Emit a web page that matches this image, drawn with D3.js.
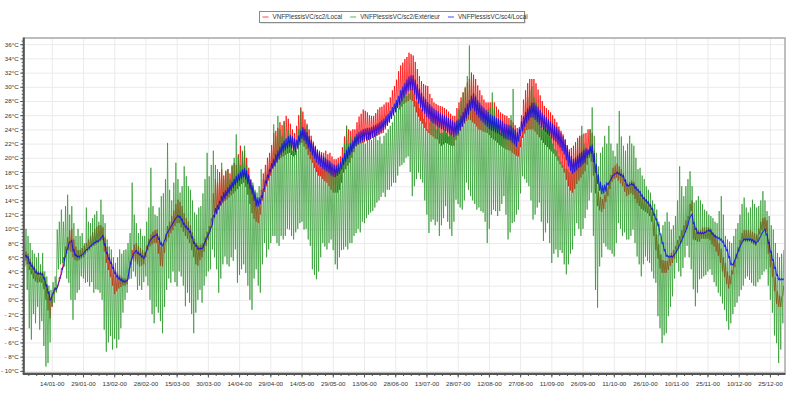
<!DOCTYPE html>
<html>
<head>
<meta charset="utf-8">
<script src="https://cdn.jsdelivr.net/npm/d3@7"></script>
<style>
  body { margin: 0; background: #fff; }
  text { font-family: "Liberation Sans", Arial, sans-serif; fill: #333; }
</style>
</head>
<body>
<svg id="chart" width="791" height="397"></svg>
<script>
// daily readings, day 0 = 01/01, one value per day (min at night, max in the afternoon)
var seriesNames = ['VNFPlessisVC/sc2/Local', 'VNFPlessisVC/sc2/Extérieur', 'VNFPlessisVC/sc4/Local'];

var redMax = [
  6.8, 6.5, 5.8, 5.3, 4.8, 4.3, 4.0, 4.0, 4.0, 3.2, 2.2, 1.2, 0.3, 1.0, 1.8,
  2.0, 3.2, 4.5, 6.0, 7.5, 8.8, 9.8, 10.0, 8.5, 7.5, 7.0, 7.0, 7.3, 7.6, 8.0,
  8.5, 9.0, 9.5, 10.0, 10.3, 10.5, 10.5, 10.2, 8.8, 7.5, 6.5, 5.8, 5.0, 4.2, 3.8,
  3.5, 3.2, 3.0, 3.0, 3.4, 5.4, 7.0, 7.8, 8.0, 7.6, 7.3, 7.0, 6.7, 7.6, 8.6,
  9.2, 9.6, 9.8, 9.9, 9.0, 8.2, 8.0, 9.2, 10.4, 11.0, 11.8, 12.6, 13.5, 14.1, 13.8,
  13.2, 12.2, 11.5, 11.0, 10.5, 9.5, 8.6, 8.0, 7.6, 7.8, 8.0, 8.8, 9.6, 10.4, 11.5,
  15.0, 17.0, 16.5, 18.0, 18.4, 17.5, 18.2, 18.4, 17.8, 18.8, 19.3, 19.0, 20.5, 21.7, 20.8,
  21.0, 20.0, 18.6, 17.0, 15.8, 14.8, 14.0, 13.7, 15.5, 17.8, 19.0, 20.0, 20.7, 21.8, 23.5,
  23.8, 24.2, 25.0, 24.6, 25.2, 25.9, 25.5, 24.8, 24.0, 23.5, 24.5, 26.0, 27.1, 26.5, 25.4,
  24.8, 24.0, 23.1, 22.3, 21.7, 21.2, 21.0, 20.8, 20.7, 21.0, 20.5, 20.7, 20.2, 19.8, 19.8,
  20.0, 20.2, 21.5, 23.0, 24.5, 24.0, 23.8, 24.0, 24.0, 25.0, 25.8, 26.2, 26.8, 26.6, 26.4,
  26.0, 25.9, 25.9, 26.3, 26.8, 27.1, 27.2, 27.5, 27.8, 27.8, 28.5, 29.5, 30.1, 31.0, 32.2,
  33.0, 33.4, 33.9, 34.2, 34.8, 34.6, 34.4, 33.5, 32.5, 31.5, 30.8, 30.4, 30.2, 30.1, 29.0,
  28.4, 27.8, 27.6, 27.4, 27.3, 27.2, 27.0, 26.8, 26.5, 26.2, 25.9, 25.9, 27.0, 27.8, 28.5,
  29.2, 29.8, 30.6, 31.1, 32.0, 31.7, 31.1, 30.2, 29.5, 28.8, 28.2, 27.8, 27.8, 27.8, 27.8,
  27.8, 27.2, 26.8, 26.4, 26.2, 26.0, 25.9, 25.6, 25.3, 25.0, 24.6, 24.2, 24.0, 26.0, 28.2,
  29.5, 30.5, 31.1, 31.1, 31.1, 30.5, 29.6, 28.8, 28.0, 27.3, 27.0, 26.7, 26.4, 26.0, 25.5,
  25.0, 24.4, 23.8, 23.3, 22.6, 21.8, 21.2, 21.4, 21.7, 22.2, 22.8, 23.1, 23.2, 23.4, 23.5,
  24.0, 24.0, 23.5, 21.0, 18.0, 15.2, 14.5, 14.2, 14.8, 15.8, 16.6, 17.6, 18.6, 18.9, 19.2,
  18.8, 18.4, 17.8, 17.0, 16.4, 16.6, 16.8, 16.6, 16.0, 15.4, 15.0, 14.6, 14.4, 14.2, 13.9,
  13.5, 12.8, 11.0, 9.2, 7.8, 6.4, 5.6, 5.5, 5.5, 6.0, 6.6, 7.0, 7.6, 8.4, 9.0,
  9.8, 10.5, 11.2, 11.8, 13.5, 14.0, 10.5, 10.0, 9.8, 9.8, 10.2, 10.2, 10.2, 10.2, 10.0,
  9.5, 9.2, 8.6, 8.0, 7.2, 6.0, 5.2, 4.0, 3.4, 4.2, 5.4, 6.4, 7.4, 8.4, 9.4,
  9.8, 9.8, 9.8, 9.8, 9.6, 9.4, 9.2, 10.0, 11.0, 11.5, 11.6, 11.2, 8.5, 6.8, 5.2, 3.2, 1.2, 0.6, 0.4, 2.0
];
var redMin = [
  5.5, 5.0, 4.2, 3.6, 3.0, 2.6, 2.4, 2.5, 2.4, 1.5, 0.0, -1.5, -2.6, -1.0, 0.8,
  1.2, 2.0, 3.0, 4.2, 5.5, 6.5, 7.0, 6.8, 6.0, 5.6, 5.5, 5.6, 5.8, 6.0, 6.4,
  6.8, 7.0, 7.4, 7.6, 7.8, 8.0, 8.2, 8.4, 6.8, 5.2, 4.2, 3.2, 2.0, 0.8, 1.2,
  1.6, 1.8, 2.0, 2.0, 2.2, 3.8, 5.0, 5.5, 5.4, 5.0, 4.7, 4.8, 5.0, 6.0, 7.0,
  7.5, 7.8, 8.0, 8.0, 6.5, 4.8, 4.7, 6.6, 8.2, 8.8, 9.4, 9.8, 10.4, 10.8, 10.8,
  10.2, 9.6, 9.0, 8.6, 8.0, 7.0, 6.0, 5.0, 4.8, 5.6, 6.0, 6.8, 7.6, 8.4, 9.6,
  10.5, 11.5, 12.2, 12.8, 13.2, 13.6, 13.9, 14.1, 14.4, 14.7, 15.0, 15.3, 15.6, 16.0, 16.3,
  16.5, 15.9, 14.8, 13.5, 12.2, 11.4, 11.0, 10.8, 12.0, 14.0, 15.2, 16.0, 16.8, 17.5, 18.4,
  18.8, 19.3, 19.7, 20.0, 20.2, 20.4, 20.6, 20.7, 20.4, 20.2, 20.4, 21.2, 21.8, 22.1, 21.6,
  21.2, 20.4, 19.8, 19.3, 18.6, 18.0, 17.5, 17.4, 17.0, 16.7, 16.5, 16.0, 15.5, 15.1, 15.1,
  15.1, 15.5, 16.5, 17.9, 18.4, 18.9, 19.3, 20.0, 20.8, 21.6, 21.8, 22.0, 22.1, 22.2, 22.4,
  22.5, 22.6, 22.8, 22.9, 23.1, 23.2, 23.4, 23.5, 24.0, 24.5, 25.0, 25.5, 26.0, 26.4, 27.0,
  26.8, 27.2, 27.6, 27.8, 28.0, 28.2, 28.0, 27.2, 26.4, 25.8, 25.2, 24.8, 24.2, 23.8, 23.5,
  23.2, 23.0, 22.7, 22.6, 22.0, 21.7, 21.9, 22.1, 22.0, 21.8, 21.7, 21.7, 22.5, 23.1, 23.8,
  24.4, 24.8, 25.2, 25.4, 25.3, 25.0, 24.8, 24.4, 24.0, 23.9, 23.7, 23.6, 23.5, 23.2, 22.8,
  22.6, 22.4, 22.1, 21.8, 21.6, 21.4, 21.2, 21.1, 21.0, 20.7, 20.5, 20.3, 20.2, 21.5, 22.8,
  23.4, 23.9, 24.0, 24.0, 24.0, 23.7, 23.3, 22.9, 22.5, 22.1, 21.8, 21.5, 21.2, 20.9, 20.6,
  20.2, 19.6, 19.1, 18.6, 17.9, 16.9, 16.0, 15.4, 15.1, 15.6, 16.3, 16.8, 17.2, 17.7, 18.1,
  19.0, 20.0, 19.5, 17.5, 15.0, 13.2, 12.6, 12.4, 12.8, 13.8, 14.6, 15.6, 16.6, 17.0, 17.2,
  16.8, 16.4, 16.0, 15.2, 14.6, 14.8, 15.0, 14.8, 14.2, 13.6, 13.2, 12.8, 12.6, 12.4, 12.2,
  11.8, 11.0, 9.0, 7.0, 5.8, 4.4, 3.8, 3.8, 3.8, 4.2, 4.8, 5.2, 5.8, 6.6, 7.2,
  8.0, 8.7, 9.5, 10.0, 11.5, 12.5, 8.5, 8.4, 8.2, 8.2, 8.6, 8.6, 8.6, 8.6, 8.4,
  7.8, 7.5, 6.8, 6.2, 5.2, 4.0, 3.2, 2.2, 1.6, 2.2, 3.6, 4.6, 5.8, 6.8, 7.8,
  8.2, 8.2, 8.2, 8.2, 8.0, 7.8, 7.6, 8.2, 9.2, 9.8, 10.0, 9.6, 6.5, 4.6, 3.2, 1.2, -0.6, -1.0, -1.0, 0.6
];

var greenMax = [
  10, 9, 8, 7, 6.5, 6, 6.6, 5, 6.6, 4, 3.3, 2, 1.4, 2.5, 3.3,
  9.9, 11, 12.7, 11, 13.2, 14.8, 12, 13.2, 10.8, 9, 10, 9, 9.4, 8, 13,
  11, 10.8, 11.5, 12, 12.5, 11, 14.1, 12, 10.8, 8.5, 7.5, 7.1, 6, 5.2, 6,
  7.1, 6.5, 7, 7.1, 8, 9.4, 16.5, 12, 10.8, 9.4, 10, 9, 9, 11, 13,
  18.6, 13.2, 12, 11.8, 13, 14.6, 15, 17, 22.1, 15.5, 14, 16.5, 19.3, 17, 15.1,
  16, 18.8, 17.4, 16, 15.5, 14, 12.3, 12, 13, 13.2, 15, 17, 20.7, 17.4, 19,
  21, 19, 18.4, 17, 19.3, 17, 18, 18.4, 17, 19, 20, 23.3, 20.2, 19, 21,
  21.7, 19, 17.4, 16, 16.5, 15.5, 15.1, 16, 18.4, 17, 18, 19, 20.2, 21, 24.7,
  23, 25.9, 24, 23, 25, 22, 24, 23, 21, 22.1, 21, 24, 26.8, 24, 23,
  24.5, 23, 22.1, 21, 20.7, 19.5, 20, 19, 20.2, 19, 18.5, 19.3, 18, 17.5, 18.4,
  19.3, 18.5, 20, 22, 24.5, 22, 23.1, 22, 23, 23.1, 22.5, 23, 23.5, 22, 23,
  23.5, 22.5, 23, 23.5, 22.5, 23, 22, 23.1, 23.5, 24, 24.5, 25, 26, 27.8, 27,
  28, 28.5, 29, 28.7, 29, 29.7, 29, 28, 27.8, 27, 26.8, 25.5, 25, 24, 25,
  25.4, 24.5, 24, 24.5, 23.5, 23.5, 24, 23.5, 23, 23.5, 23, 23.1, 25, 26.8, 28,
  29.2, 30, 31.5, 35.8, 31, 30.1, 29, 27.8, 27, 26.5, 25.9, 26, 26.8, 27, 29.2,
  27, 25.4, 24.5, 23.5, 24, 23.5, 23.1, 24, 26, 29.7, 24, 22.6, 23, 23.1, 25,
  27.8, 28.5, 29.5, 30.1, 28.5, 27.8, 26, 24.5, 24, 24.5, 24, 24, 23, 22, 21.2,
  21, 20.2, 19.5, 19, 18.5, 18.4, 18, 19, 19.3, 21, 22.5, 23, 24.5, 22, 20.2,
  21, 24, 27.1, 23.1, 20.7, 18.8, 20.7, 21.5, 23.1, 22, 24.5, 22, 21, 20.2, 22,
  26.6, 23, 21.7, 21, 22, 23.1, 22, 21.7, 20, 18.4, 18.6, 17.5, 17, 16, 15.5,
  15.1, 14, 13.5, 12.7, 11, 9, 10.5, 11, 12.3, 11, 9.9, 10.5, 11.8, 14, 18.8,
  16, 14.6, 16, 17, 18.1, 16, 13.7, 14, 14.6, 14, 13.5, 12.7, 12.5, 12, 11.8,
  11.5, 11, 10.8, 12.5, 14.6, 12, 9, 8.5, 8.2, 8, 9, 10, 10.8, 12, 13.5,
  14.4, 13, 12.3, 13, 14.1, 13.5, 13, 13.2, 14, 15.3, 14, 12.5, 11.8, 10.5, 9.9, 8, 6.6, 6, 6.5, 7
];
var greenMin = [
  4.7, 1.4, -4, -5.6, -2, -3.3, -1, -4.2, -3, -6.5, -9.4, -8.9, -6, -0.9, -0.4,
  1, 4.3, 5, 5.2, 4.7, 3, 2.4, 0, -2.8, 0, 1, 1.4, 3.3, 3, 2.4,
  2.5, 1.9, 2.5, 1, 1.5, 1.4, 1, 0, -4.2, -7.3, -6, -5.1, -7, -5.5, -6.8,
  -5.6, -4, -1.8, 0, 1, 2.9, 3, 4, 3.3, 1.4, 2, 1.4, 2.5, 3.3, 2,
  0, -2, -3.3, -1, -1.8, -3, -4.7, -1, 1.4, 3, 2.4, 4, 2.5, 1.9, 4,
  3.3, 2, -0.9, 1, -0.4, -2, -4.7, -1.8, 0, 1.4, -0.4, 2, 3.3, 4, 4.3,
  7.1, 6, 4.3, 1, 3, 5, 6.1, 5, 4.7, 6, 5.5, 7.1, 2.4, 3.5, 4.3,
  5, 3.8, 2, 0, -1.4, 3, 4.3, 2, 1, 5, 8, 6, 7.1, 8, 9,
  9, 8, 7.6, 9, 8.5, 9, 10, 9.9, 9, 8.5, 9.5, 10, 10.8, 11, 9.9,
  10, 8.5, 7.6, 4.3, 3.5, 2.9, 4, 6, 8, 7.5, 7.1, 8, 8.5, 7, 5,
  4.3, 6, 7, 7.1, 7.5, 7.1, 8, 8, 9, 9.4, 10, 9.5, 11, 10.8, 11.5,
  12, 12.3, 12.5, 13, 13.7, 14, 14.5, 15.1, 14.5, 15.5, 15.5, 16, 16.5, 16.5, 17.5,
  18.8, 19, 19.3, 20, 20.2, 18, 14.6, 16, 17, 17.9, 17, 16.5, 14, 12, 9.4,
  11, 11.3, 10.5, 11, 9, 10.5, 11.5, 13.2, 11, 10, 9, 11, 14.1, 13.5, 13,
  12.7, 14, 16.5, 15.5, 14.6, 14, 13.5, 12.7, 13, 12.5, 12.3, 11, 8, 10, 12,
  12.7, 12.5, 11.8, 12.5, 13.5, 14.6, 12, 8.5, 9.5, 10.8, 11, 12, 12.7, 15, 17.4,
  17, 16.5, 16, 14, 11.3, 12, 13, 13.7, 11, 8.3, 9.5, 10.8, 8, 5.2, 6.5,
  7.1, 6, 7, 6.6, 5, 3.6, 5, 6.5, 7.1, 9, 10.8, 10, 9, 10, 11.5,
  12.7, 14, 15.1, 9, 1.4, -1.1, 4.7, 6, 8, 7.5, 7.1, 7, 6.5, 6.1, 8,
  10.8, 10, 9, 9.5, 8.5, 8.5, 9, 9.9, 8, 6.1, 5, 3.3, 5, 6.1, 5.5,
  5.2, 4, 3, 2.4, -2.3, -4, -6.1, -5, -4.7, -2.3, -1, 0.5, 3, 5.2, 4,
  3.3, 4.5, 6, 7.6, 6, 4.3, 1.5, -0.9, 1, 2.9, 3, 3.3, 3.5, 4, 4.3,
  3.5, 2.5, 1.9, 1, 0.5, -0.5, -1.4, -3, -4.2, -3.3, -2, -1, -0.4, 0.5, 1.4,
  2, 3, 3.3, 2.8, 2.4, 2, 1.9, 2.5, 2.9, 3.5, 4, 4.3, 2, 0, -1.8, -5, -6.1, -8.9, -7, -3.3
];

var blueMax = [
  6.3, 6.1, 5.3, 4.9, 4.5, 4.0, 3.8, 3.8, 3.7, 3.1, 2.1, 1.1, 0.1, 0.9, 1.6,
  1.7, 2.6, 3.6, 4.7, 6.1, 7.2, 8.1, 8.4, 7.1, 6.4, 6.2, 6.2, 6.4, 6.7, 7.1,
  7.3, 7.6, 7.9, 8.1, 8.3, 8.4, 8.7, 9.1, 7.9, 6.7, 5.9, 5.3, 4.6, 3.9, 3.4,
  3.1, 2.9, 2.7, 2.7, 2.9, 4.6, 5.9, 6.6, 7.0, 6.7, 6.5, 6.2, 6.0, 6.9, 7.9,
  8.5, 8.9, 9.1, 9.3, 8.7, 8.0, 7.8, 8.6, 9.5, 10.0, 10.5, 11.0, 11.5, 11.9, 11.8,
  11.4, 10.8, 10.4, 10.1, 9.7, 8.9, 8.1, 7.7, 7.3, 7.3, 7.4, 8.1, 8.8, 9.4, 10.2,
  11.9, 12.9, 13.3, 13.9, 14.6, 15.1, 15.4, 15.8, 16.2, 16.6, 17.0, 17.4, 17.7, 18.0, 18.3,
  18.5, 18.2, 17.6, 16.8, 16.1, 15.2, 14.4, 14.4, 14.7, 15.6, 16.8, 17.6, 18.4, 19.2, 19.8,
  20.5, 21.0, 21.5, 22.0, 22.4, 22.7, 23.0, 23.2, 23.0, 22.7, 22.5, 23.1, 23.8, 24.3, 24.0,
  23.6, 23.0, 22.5, 22.0, 21.5, 21.0, 20.7, 20.4, 20.1, 19.9, 19.7, 19.5, 19.2, 19.0, 18.9,
  19.1, 19.4, 20.0, 20.6, 21.1, 21.5, 22.0, 22.4, 22.9, 23.3, 23.6, 23.8, 24.0, 24.1, 24.2,
  24.2, 24.3, 24.5, 24.6, 24.8, 25.0, 25.2, 25.5, 25.9, 26.2, 26.6, 27.1, 27.6, 28.1, 28.7,
  29.5, 30.0, 30.5, 31.0, 31.4, 31.6, 31.6, 31.0, 30.3, 29.7, 29.1, 28.6, 28.2, 27.8, 27.5,
  27.2, 26.9, 26.7, 26.5, 26.3, 26.1, 26.0, 25.8, 25.6, 25.4, 25.2, 25.0, 25.2, 25.4, 25.9,
  26.4, 27.0, 27.6, 28.1, 28.7, 29.0, 28.6, 28.1, 27.7, 27.3, 27.0, 26.7, 26.4, 26.1, 25.9,
  25.8, 25.6, 25.5, 25.3, 25.1, 24.8, 24.7, 24.6, 24.5, 24.2, 23.9, 23.6, 24.3, 25.1, 25.8,
  26.4, 26.9, 27.3, 27.7, 27.7, 27.4, 27.1, 26.7, 26.3, 26.0, 25.7, 25.4, 25.1, 24.8, 24.5,
  24.3, 23.9, 23.5, 23.0, 22.5, 21.7, 20.8, 20.2, 19.8, 20.0, 20.3, 20.6, 20.8, 21.1, 21.3,
  21.2, 21.6, 21.8, 20.6, 19.1, 17.6, 16.6, 16.1, 16.2, 16.5, 16.4, 17.0, 17.5, 17.8, 18.0,
  17.9, 17.7, 17.5, 16.9, 16.2, 16.2, 16.4, 16.3, 15.9, 15.6, 15.3, 14.8, 14.4, 14.1, 13.8,
  13.4, 12.9, 12.1, 11.4, 10.6, 9.3, 8.1, 7.1, 6.3, 6.2, 6.2, 6.2, 6.6, 7.1, 7.7,
  8.3, 9.0, 9.7, 10.5, 11.6, 12.1, 10.9, 10.1, 9.5, 9.5, 9.5, 9.5, 9.7, 9.9, 9.8,
  9.4, 9.1, 8.9, 8.8, 8.6, 8.3, 7.7, 7.1, 6.1, 5.1, 5.1, 5.9, 6.7, 7.4, 8.1,
  8.6, 8.6, 8.6, 8.6, 8.5, 8.3, 8.1, 8.4, 9.0, 9.6, 10.0, 9.3, 8.1, 6.9, 5.7, 4.6, 3.6, 3.0, 3.0, 3.0
];
var blueMin = [
  6.1, 5.9, 5.1, 4.7, 4.3, 3.8, 3.6, 3.6, 3.5, 2.9, 1.9, 0.9, -0.1, 0.7, 1.4,
  1.5, 2.4, 3.4, 4.5, 5.9, 7.0, 7.9, 8.2, 6.9, 6.2, 6.0, 6.0, 6.2, 6.5, 6.9,
  7.1, 7.4, 7.7, 7.9, 8.1, 8.2, 8.5, 8.9, 7.7, 6.5, 5.7, 5.1, 4.4, 3.7, 3.2,
  2.9, 2.7, 2.5, 2.5, 2.7, 4.4, 5.7, 6.4, 6.8, 6.5, 6.3, 6.0, 5.8, 6.7, 7.7,
  8.3, 8.7, 8.9, 9.1, 8.5, 7.8, 7.6, 8.4, 9.3, 9.8, 10.3, 10.8, 11.3, 11.7, 11.6,
  11.2, 10.6, 10.2, 9.9, 9.5, 8.7, 7.9, 7.5, 7.1, 7.1, 7.2, 7.9, 8.6, 9.2, 10.0,
  10.7, 11.7, 12.1, 12.7, 13.4, 13.9, 14.2, 14.6, 15.0, 15.4, 15.8, 16.2, 16.5, 16.8, 17.1,
  17.3, 17.0, 16.4, 15.6, 14.9, 14.0, 13.2, 13.2, 13.5, 14.4, 15.6, 16.4, 17.2, 18.0, 18.6,
  18.9, 19.4, 19.9, 20.4, 20.8, 21.1, 21.4, 21.6, 21.4, 21.1, 20.9, 21.5, 22.2, 22.7, 22.4,
  22.0, 21.4, 20.9, 20.4, 19.9, 19.4, 19.1, 18.8, 18.5, 18.3, 18.1, 17.9, 17.6, 17.4, 17.3,
  17.5, 17.8, 18.4, 19.0, 19.5, 19.9, 20.4, 20.8, 21.3, 21.7, 22.0, 22.2, 22.4, 22.5, 22.6,
  22.6, 22.7, 22.9, 23.0, 23.2, 23.4, 23.6, 23.9, 24.3, 24.6, 25.0, 25.5, 26.0, 26.5, 27.1,
  27.5, 28.0, 28.5, 29.0, 29.4, 29.6, 29.6, 29.0, 28.3, 27.7, 27.1, 26.6, 26.2, 25.8, 25.5,
  25.2, 24.9, 24.7, 24.5, 24.3, 24.1, 24.0, 23.8, 23.6, 23.4, 23.2, 23.0, 23.2, 23.4, 23.9,
  24.4, 25.0, 25.6, 26.1, 26.7, 27.0, 26.6, 26.1, 25.7, 25.3, 25.0, 24.7, 24.4, 24.1, 23.9,
  23.8, 23.6, 23.5, 23.3, 23.1, 22.8, 22.7, 22.6, 22.5, 22.2, 21.9, 21.6, 22.3, 23.1, 23.8,
  24.4, 24.9, 25.3, 25.7, 25.7, 25.4, 25.1, 24.7, 24.3, 24.0, 23.7, 23.4, 23.1, 22.8, 22.5,
  22.3, 21.9, 21.5, 21.0, 20.5, 19.7, 18.8, 18.2, 17.8, 18.0, 18.3, 18.6, 18.8, 19.1, 19.3,
  20.0, 20.4, 20.6, 19.4, 17.9, 16.4, 15.4, 14.9, 15.0, 15.3, 16.2, 16.8, 17.3, 17.6, 17.8,
  17.7, 17.5, 17.3, 16.7, 16.0, 16.0, 16.2, 16.1, 15.7, 15.4, 15.1, 14.6, 14.2, 13.9, 13.6,
  13.2, 12.7, 11.9, 11.2, 10.4, 9.1, 7.9, 6.9, 6.1, 6.0, 6.0, 6.0, 6.4, 6.9, 7.5,
  8.1, 8.8, 9.5, 10.3, 11.4, 11.9, 10.7, 9.9, 9.3, 9.3, 9.3, 9.3, 9.5, 9.7, 9.6,
  9.2, 8.9, 8.7, 8.6, 8.4, 8.1, 7.5, 6.9, 5.9, 4.9, 4.9, 5.7, 6.5, 7.2, 7.9,
  8.4, 8.4, 8.4, 8.4, 8.3, 8.1, 7.9, 8.2, 8.8, 9.4, 9.8, 9.1, 7.9, 6.7, 5.5, 4.4, 3.4, 2.8, 2.8, 2.8
];

var yTickValues = d3.range(-10, 37, 2);

var plot = {left: 24.7, right: 784.5, top: 38.5, bottom: 373};

var start = Date.UTC(1900, 0, 1);
var dayToDate = function(d) { return new Date(start + d * 864e5); };
var xTickValues = d3.range(13, 365, 15).map(dayToDate);

var series = [
  {name: seriesNames[0], color: '#ff0000', lo: redMin, hi: redMax, opacity: 0.75, w: 1},
  {name: seriesNames[1], color: '#259525', lo: greenMin, hi: greenMax, opacity: 0.68, w: 1},
  {name: seriesNames[2], color: '#0000ff', lo: blueMin, hi: blueMax, opacity: 0.75, w: 1.1}
];

var x = d3.scaleUtc()
  .domain([dayToDate(0), dayToDate(365)])
  .range([plot.left, plot.right]);

var y = d3.scaleLinear()
  .domain([-10.3, 36.8])
  .range([plot.bottom, plot.top]);

var svg = d3.select('#chart');

svg.append('defs').append('clipPath')
  .attr('id', 'plotClip')
  .append('rect')
  .attr('x', plot.left)
  .attr('y', plot.top)
  .attr('width', plot.right - plot.left)
  .attr('height', plot.bottom - plot.top);

// grid
svg.append('g')
  .attr('transform', 'translate(' + plot.left + ',0)')
  .call(d3.axisLeft(y).tickValues(yTickValues).tickSize(-(plot.right - plot.left)).tickFormat(''))
  .call(function(g) { g.select('.domain').remove(); })
  .selectAll('line').attr('stroke', '#ebebeb');

svg.append('g')
  .attr('transform', 'translate(0,' + plot.bottom + ')')
  .call(d3.axisBottom(x).tickValues(xTickValues).tickSize(-(plot.bottom - plot.top)).tickFormat(''))
  .call(function(g) { g.select('.domain').remove(); })
  .selectAll('line').attr('stroke', '#ebebeb');

// series, drawn in legend order
var line = d3.line()
  .x(function(p) { return x(dayToDate(p[0])); })
  .y(function(p) { return y(p[1]); });

var lines = svg.append('g').attr('clip-path', 'url(#plotClip)');

series.forEach(function(s) {
  var pts = [];
  for (var d = 0; d < s.hi.length; d++) {
    pts.push([d + 0.2, s.lo[d]]);
    pts.push([d + 0.62, s.hi[d]]);
  }
  lines.append('path')
    .datum(pts)
    .attr('d', line)
    .attr('fill', 'none')
    .attr('stroke', s.color)
    .attr('stroke-width', s.w)
    .attr('stroke-opacity', s.opacity)
    .attr('stroke-linejoin', 'round');
});

// frame
svg.append('rect')
  .attr('x', plot.left - 0.5)
  .attr('y', plot.top - 0.5)
  .attr('width', plot.right - plot.left + 1)
  .attr('height', plot.bottom - plot.top + 0.5)
  .attr('fill', 'none')
  .attr('stroke', '#a8a8a8')
  .attr('stroke-width', 1.5);

var fmtY = function(v) { return v < 0 ? '- ' + (-v) + '°C' : v + '°C'; };

// y axis: minor ticks, then labelled ticks
svg.append('g')
  .attr('transform', 'translate(' + (plot.left - 1) + ',0)')
  .call(d3.axisLeft(y).tickValues(d3.range(-10, 36.6, 0.5)).tickSize(2).tickFormat(''))
  .call(function(g) { g.select('.domain').remove(); })
  .selectAll('line').attr('stroke', '#555');

var yAxis = svg.append('g')
  .attr('transform', 'translate(' + (plot.left - 1) + ',0)')
  .call(d3.axisLeft(y).tickValues(yTickValues).tickSize(3.5).tickPadding(1.5).tickFormat(fmtY));
yAxis.select('.domain').remove();
yAxis.selectAll('line').attr('stroke', '#555');
yAxis.selectAll('text').attr('font-size', '6.2px').attr('fill', '#333')
  .style('font-family', '"Liberation Sans", Arial, sans-serif');

svg.append('line')
  .attr('x1', plot.left - 1).attr('x2', plot.left - 1)
  .attr('y1', plot.top - 1).attr('y2', plot.bottom + 1)
  .attr('stroke', '#555').attr('stroke-width', 2);

// x axis
svg.append('g')
  .attr('transform', 'translate(0,' + (plot.bottom + 1) + ')')
  .call(d3.axisBottom(x).tickValues(d3.range(1.75, 365, 3.75).map(dayToDate)).tickSize(2).tickFormat(''))
  .call(function(g) { g.select('.domain').remove(); })
  .selectAll('line').attr('stroke', '#555');

var xAxis = svg.append('g')
  .attr('transform', 'translate(0,' + (plot.bottom + 1) + ')')
  .call(d3.axisBottom(x).tickValues(xTickValues).tickSize(3.5).tickPadding(4).tickFormat(d3.utcFormat('%d/%m-%y')));
xAxis.select('.domain').remove();
xAxis.selectAll('line').attr('stroke', '#555');
xAxis.selectAll('text').attr('font-size', '6.2px').attr('fill', '#333')
  .style('font-family', '"Liberation Sans", Arial, sans-serif');

svg.append('line')
  .attr('x1', plot.left - 2).attr('x2', plot.right + 1)
  .attr('y1', plot.bottom + 1).attr('y2', plot.bottom + 1)
  .attr('stroke', '#555').attr('stroke-width', 2);

// legend
var legend = svg.append('g').attr('transform', 'translate(259.5,11.5)');
legend.append('rect')
  .attr('x', 1).attr('y', 1).attr('width', 265).attr('height', 11)
  .attr('fill', '#c8c8c8');
legend.append('rect')
  .attr('width', 265).attr('height', 11)
  .attr('fill', '#fff').attr('stroke', '#8a8a8a').attr('stroke-width', 1);

var lx = 3;
series.forEach(function(s) {
  legend.append('line')
    .attr('x1', lx).attr('x2', lx + 6)
    .attr('y1', 5.5).attr('y2', 5.5)
    .attr('stroke', s.color).attr('stroke-opacity', 0.6).attr('stroke-width', 1.2);
  var t = legend.append('text')
    .attr('x', lx + 10).attr('y', 7.8)
    .attr('font-size', '6.3px')
    .text(s.name);
  lx += 10 + t.node().getComputedTextLength() + 8;
});
</script>
</body>
</html>
